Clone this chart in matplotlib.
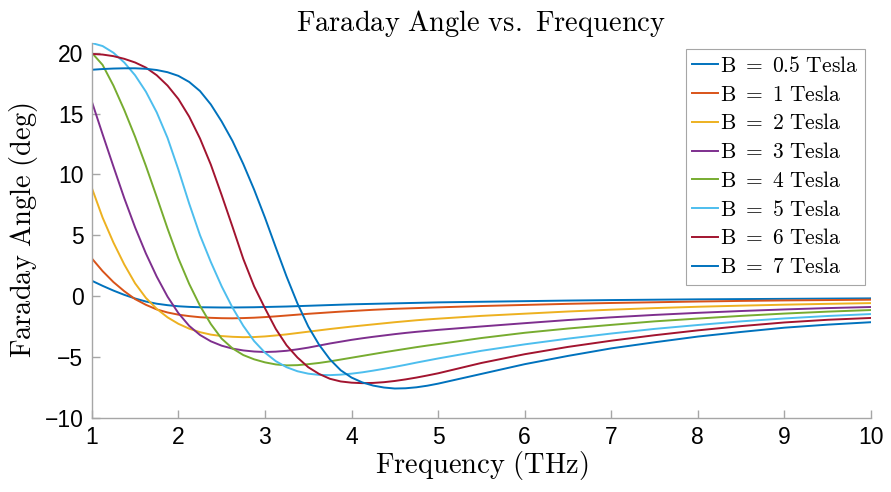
import matplotlib
matplotlib.use("Agg")
import matplotlib.pyplot as plt

# Frequency grid (THz): fine steps through the resonance, coarser in the tail
freq_thz = [1.0, 1.125, 1.25, 1.375, 1.5, 1.625, 1.75, 1.875,
            2.0, 2.125, 2.25, 2.375, 2.5, 2.625, 2.75, 2.875,
            3.0, 3.125, 3.25, 3.375, 3.5, 3.625, 3.75, 3.875,
            4.0, 4.125, 4.25, 4.375, 4.5, 4.625, 4.75, 4.875,
            5.0, 5.5, 6.0, 6.5, 7.0, 7.5, 8.0, 8.5, 9.0, 9.5, 10.0]

b_fields = [0.5, 1, 2, 3, 4, 5, 6, 7]

# Faraday rotation angle (deg) for each magnetic field
angle_b05 = [1.26, 0.84, 0.45, 0.1, -0.2, -0.45, -0.63, -0.75,
             -0.84, -0.89, -0.92, -0.93, -0.94, -0.94, -0.93, -0.92,
             -0.9, -0.88, -0.86, -0.83, -0.8, -0.77, -0.74, -0.71,
             -0.68, -0.66, -0.64, -0.62, -0.6, -0.58, -0.56, -0.54,
             -0.52, -0.47, -0.42, -0.37, -0.33, -0.3, -0.27, -0.25, -0.23, -0.21, -0.19]
angle_b1 = [3.1, 2.05, 1.15, 0.4, -0.25, -0.72, -1.1, -1.35,
            -1.53, -1.65, -1.74, -1.79, -1.82, -1.83, -1.81, -1.78,
            -1.73, -1.67, -1.6, -1.53, -1.46, -1.4, -1.34, -1.28,
            -1.23, -1.18, -1.13, -1.09, -1.05, -1.02, -0.99, -0.96,
            -0.93, -0.82, -0.73, -0.64, -0.57, -0.51, -0.45, -0.4, -0.36, -0.33, -0.3]
angle_b2 = [8.9, 6.45, 4.4, 2.6, 1.05, -0.15, -1.05, -1.75,
            -2.28, -2.68, -2.97, -3.17, -3.29, -3.35, -3.38, -3.37,
            -3.32, -3.24, -3.15, -3.04, -2.93, -2.82, -2.71, -2.61,
            -2.51, -2.42, -2.33, -2.24, -2.15, -2.07, -1.99, -1.92,
            -1.86, -1.63, -1.45, -1.27, -1.12, -0.99, -0.88, -0.79, -0.71, -0.64, -0.58]
angle_b3 = [16.0, 13.3, 10.65, 8.05, 5.65, 3.5, 1.6, -0.05,
            -1.4, -2.45, -3.2, -3.72, -4.08, -4.32, -4.47, -4.56,
            -4.6, -4.57, -4.5, -4.38, -4.24, -4.07, -3.9, -3.75,
            -3.6, -3.47, -3.35, -3.24, -3.13, -3.03, -2.94, -2.86,
            -2.78, -2.5, -2.23, -1.97, -1.75, -1.55, -1.38, -1.23, -1.1, -0.99, -0.9]
angle_b4 = [20.0, 19.0, 17.3, 15.3, 13.1, 10.7, 8.15, 5.55,
            3.1, 1.0, -0.8, -2.3, -3.5, -4.3, -4.85, -5.2,
            -5.45, -5.62, -5.7, -5.68, -5.6, -5.5, -5.37, -5.22,
            -5.07, -4.92, -4.77, -4.62, -4.48, -4.34, -4.2, -4.07,
            -3.95, -3.45, -3.02, -2.67, -2.37, -2.08, -1.85, -1.63, -1.44, -1.28, -1.15]
angle_b5 = [20.8, 20.55, 20.0, 19.2, 18.15, 16.8, 15.1, 13.0,
            10.4, 7.6, 5.0, 2.8, 0.8, -0.95, -2.45, -3.7,
            -4.65, -5.35, -5.85, -6.18, -6.38, -6.48, -6.5, -6.46,
            -6.38, -6.27, -6.13, -5.98, -5.82, -5.65, -5.47, -5.3,
            -5.13, -4.5, -3.97, -3.5, -3.08, -2.7, -2.38, -2.08, -1.84, -1.64, -1.48]
angle_b6 = [19.9, 19.85, 19.72, 19.5, 19.2, 18.78, 18.15, 17.3,
            16.2, 14.75, 12.95, 10.8, 8.3, 5.7, 3.05, 0.8,
            -1.0, -2.7, -4.05, -5.05, -5.85, -6.4, -6.8, -7.02,
            -7.12, -7.16, -7.14, -7.08, -6.98, -6.85, -6.7, -6.53,
            -6.35, -5.5, -4.78, -4.18, -3.67, -3.22, -2.82, -2.47, -2.17, -1.95, -1.8]
angle_b7 = [18.6, 18.66, 18.7, 18.72, 18.72, 18.68, 18.58, 18.4,
            18.1, 17.6, 16.85, 15.75, 14.35, 12.75, 10.85, 8.75,
            6.45, 4.0, 1.6, -0.6, -2.5, -4.0, -5.2, -6.1,
            -6.7, -7.1, -7.36, -7.52, -7.6, -7.58, -7.5, -7.37,
            -7.2, -6.4, -5.6, -4.92, -4.3, -3.8, -3.33, -2.95, -2.6, -2.35, -2.15]

angles = [angle_b05, angle_b1, angle_b2, angle_b3,
          angle_b4, angle_b5, angle_b6, angle_b7]

colors = ["#0072BD", "#D95319", "#EDB120", "#7E2F8E",
          "#77AC30", "#4DBEEE", "#A2142F", "#0072BD"]

plt.rcParams["mathtext.fontset"] = "cm"
plt.rcParams["font.family"] = ["Liberation Sans", "DejaVu Sans"]

fig = plt.figure(figsize=(8.91, 4.92), dpi=100)
ax = fig.add_axes([0.103, 0.151, 0.8746, 0.7616])

for b, vals, c in zip(b_fields, angles, colors):
    ax.plot(freq_thz, vals, color=c, lw=1.4,
            label=r"$\mathrm{B\ =\ %g\ Tesla}$" % b)

ax.set_xlim(1, 10)
ax.set_ylim(-10, max(max(v) for v in angles))
ax.set_xticks(range(1, 11))
ax.set_yticks(range(-10, 21, 5))

for side in ("top", "right"):
    ax.spines[side].set_visible(False)
for side in ("left", "bottom"):
    ax.spines[side].set_color("#a6a6a6")
    ax.spines[side].set_linewidth(1.0)

ax.tick_params(direction="in", length=6, width=1.0, color="#a6a6a6",
               labelsize=16.5, labelcolor="black", pad=6)

ax.set_title(r"$\mathrm{Faraday\ Angle\ vs.\ Frequency}$", fontsize=20.5, pad=9)
ax.set_xlabel(r"$\mathrm{Frequency\ (THz)}$", fontsize=20.5, labelpad=0)
ax.set_ylabel(r"$\mathrm{Faraday\ Angle\ (deg)}$", fontsize=20.5, labelpad=3)

leg = ax.legend(loc="upper right", fontsize=15.5, handlelength=1.2,
                handletextpad=0.1, labelspacing=0.36, borderpad=0.3,
                borderaxespad=0.3, fancybox=False, framealpha=1)
leg.get_frame().set_edgecolor("#a6a6a6")
leg.get_frame().set_linewidth(0.8)

fig.savefig("out.png", dpi=100)
